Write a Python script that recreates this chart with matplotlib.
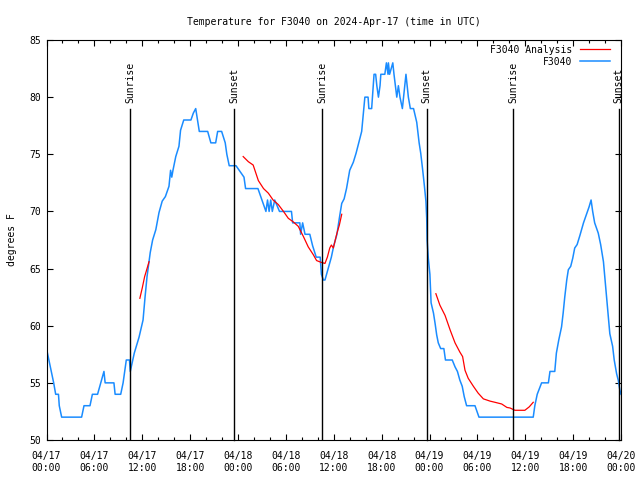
import numpy as np
import matplotlib
matplotlib.use('Agg')
import matplotlib.pyplot as plt

# F3040 observed temperature, hours since 04/17 00:00 UTC
obs_hours = [0.0, 0.3, 0.6, 0.9, 1.15, 1.5, 1.6, 1.9, 4.4, 4.7, 5.45, 5.75, 6.4, 6.8, 7.2, 7.35,
             8.45, 8.6, 9.3, 9.6, 10.0, 10.4, 10.5, 11.0, 11.6, 12.1, 12.35, 12.6, 13.0, 13.3,
             13.7, 14.1, 14.5, 14.9, 15.35, 15.55, 15.7, 15.85, 16.2, 16.6, 16.8, 17.2, 18.1,
             18.4, 18.7, 19.15, 20.2, 20.6, 21.2, 21.45, 21.95, 22.4, 22.6, 22.9, 23.75, 24.25,
             24.75, 24.95, 26.5, 27.0, 27.5, 27.7, 27.9, 28.1, 28.3, 28.6, 29.2, 30.7, 30.85,
             31.75, 31.85, 32.1, 32.4, 33.0, 33.35, 33.8, 34.3, 34.45, 34.7, 34.9, 35.3, 35.7,
             36.0, 36.4, 36.7, 37.0, 37.3, 37.6, 38.0, 38.45, 38.8, 39.2, 39.5, 39.8, 39.9,
             40.3, 40.4, 40.75, 41.05, 41.25, 41.4, 41.6, 41.8, 41.9, 42.4, 42.6, 42.8, 42.85,
             43.0, 43.4, 43.55, 43.9, 44.1, 44.3, 44.6, 44.9, 45.05, 45.2, 45.35, 45.6, 46.0,
             46.4, 46.7, 46.9, 47.15, 47.35, 47.55, 47.65, 47.7, 47.85, 48.05, 48.2, 48.5, 48.7,
             48.9, 49.1, 49.4, 49.8, 50.0, 50.85, 51.2, 51.5, 51.8, 52.1, 52.35, 52.65, 53.7,
             54.2, 61.0, 61.2, 61.5, 62.05, 62.9, 63.1, 63.7, 63.9, 64.2, 64.55, 64.75, 64.95,
             65.2, 65.4, 65.7, 65.95, 66.2, 66.5, 66.85, 67.3, 67.7, 68.0, 68.25, 68.45, 68.7,
             69.15, 69.45, 69.8, 70.0, 70.2, 70.4, 70.6, 70.95, 71.15, 71.45, 71.65, 71.85, 72.0]
obs_temp = [58, 57, 56, 55, 54, 54, 53, 52, 52, 53, 53, 54, 54, 55, 56, 55,
            55, 54, 54, 55, 57, 57, 56, 57.6, 59, 60.5, 62.5, 64.3, 66.4, 67.5,
            68.4, 69.9, 70.9, 71.3, 72.2, 73.6, 73, 73.6, 74.8, 75.7, 77.1, 78, 78,
            78.6, 79, 77, 77, 76, 76, 77, 77, 76, 75, 74, 74, 73.5,
            73, 72, 72, 71, 70, 71, 70, 71, 70, 71, 70, 70, 69,
            69, 68, 69, 68, 68, 67, 66, 66, 64.5, 64, 64, 65, 66,
            67, 68, 69.4, 70.7, 71.1, 72, 73.6, 74.3, 75.1, 76.2, 77, 79.3, 80,
            80, 79, 79, 82, 82, 81, 80, 81, 82, 82, 83, 82, 83,
            82, 83, 82, 80, 81, 80, 79, 81, 82, 81, 80, 79, 79,
            77.8, 76, 75.1, 73.6, 72.3, 70.9, 69.4, 67.5, 65.9, 64.5, 62, 61.1, 60.2,
            59.2, 58.5, 58, 58, 57, 57, 56.4, 56, 55.25, 54.7, 53.8, 53, 53,
            52, 52, 53, 54, 55, 55, 56, 56, 57.6, 58.75, 59.9, 61.1, 62.5,
            64, 64.9, 65.2, 65.9, 66.8, 67.1, 67.9, 69, 69.8, 70.4, 71, 70, 69,
            68.1, 67.1, 65.6, 64, 62.5, 60.8, 59.3, 58.2, 57, 55.8, 55.25, 54.4, 54]

# F3040 analysis, three pieces
ana1_hours = [11.7, 12.0, 12.3, 12.6, 12.85]
ana1_temp = [62.4, 63.3, 64.3, 65.0, 65.6]
ana2_hours = [24.65, 25.3, 25.9, 26.55, 27.2, 27.8, 28.4, 29.05, 29.7, 30.3, 30.9, 31.55, 32.2,
              32.8, 33.45, 33.85, 34.4, 34.9, 35.2, 35.5, 35.7, 35.95, 36.4, 36.7, 37.0]
ana2_temp = [74.8, 74.35, 74.06, 72.7, 72.0, 71.6, 71.0, 70.6, 70.0, 69.4, 69.1, 68.7, 67.8,
             66.9, 66.2, 65.7, 65.55, 65.45, 66.0, 66.8, 67.06, 66.8, 68.1, 68.8, 69.75]
ana3_hours = [48.8, 49.3, 49.95, 50.6, 51.2, 51.8, 52.15, 52.45, 52.85, 53.5, 54.1, 54.75, 55.6,
              56.2, 57.05, 57.7, 58.1, 58.7, 59.95, 60.5, 61.0]
ana3_temp = [62.8, 61.8, 60.9, 59.6, 58.5, 57.7, 57.3, 56.1, 55.4, 54.7, 54.1, 53.6, 53.4,
             53.3, 53.15, 52.85, 52.8, 52.6, 52.6, 52.9, 53.3]

sunrise = [10.46, 34.56, 58.5]
sunset = [23.53, 47.64, 71.7]

tick_hours = [0, 6, 12, 18, 24, 30, 36, 42, 48, 54, 60, 66, 72]
tick_labels = ['04/17\n00:00', '04/17\n06:00', '04/17\n12:00', '04/17\n18:00',
               '04/18\n00:00', '04/18\n06:00', '04/18\n12:00', '04/18\n18:00',
               '04/19\n00:00', '04/19\n06:00', '04/19\n12:00', '04/19\n18:00',
               '04/20\n00:00']

plt.rcParams['font.family'] = ['DejaVu Sans Mono']
plt.rcParams['font.size'] = 7

fig = plt.figure(figsize=(6.4, 4.8), dpi=100)
ax = fig.add_axes([46.5/640, 40/480, (621-46.5)/640, 400/480])

blue, = ax.plot(obs_hours, obs_temp, color='#1a8cff', linewidth=1.1, label='F3040')
red, = ax.plot(ana1_hours, ana1_temp, color='red', linewidth=0.9, label='F3040 Analysis')
ax.plot(ana2_hours, ana2_temp, color='red', linewidth=0.9)
ax.plot(ana3_hours, ana3_temp, color='red', linewidth=0.9)

for h in sunrise:
    ax.plot([h, h], [50, 79], color='black', linewidth=1.0, zorder=5)
    ax.text(h, 79.5, 'Sunrise', rotation=90, ha='center', va='bottom', fontsize=7)
for h in sunset:
    ax.plot([h, h], [50, 79], color='black', linewidth=1.0, zorder=5, clip_on=False)
    ax.text(h, 79.5, 'Sunset', rotation=90, ha='center', va='bottom', fontsize=7)

ax.set_xlim(0, 72)
ax.set_ylim(50, 85)
ax.set_xticks(tick_hours)
ax.set_xticklabels(tick_labels)
ax.set_xticks(np.arange(0, 73, 2), minor=True)
ax.set_yticks([50, 55, 60, 65, 70, 75, 80, 85])
ax.tick_params(direction='in', top=True, right=True, length=4, width=0.8, pad=4)
ax.tick_params(axis='x', which='major', pad=8)
ax.tick_params(which='minor', direction='in', top=True, length=2.5, width=0.8)
for s in ax.spines.values():
    s.set_linewidth(0.8)

ax.set_ylabel('degrees F')
ax.yaxis.set_label_coords(-0.052, 0.5)
ax.set_title('Temperature for F3040 on 2024-Apr-17 (time in UTC)', fontsize=7, pad=11)

ax.legend(handles=[red, blue], loc='upper right', frameon=False, markerfirst=False,
          handlelength=3.0, handletextpad=0.8, labelspacing=0.2,
          borderaxespad=0.3, bbox_to_anchor=(0.992, 1.005))

fig.savefig('out.png', dpi=100)
